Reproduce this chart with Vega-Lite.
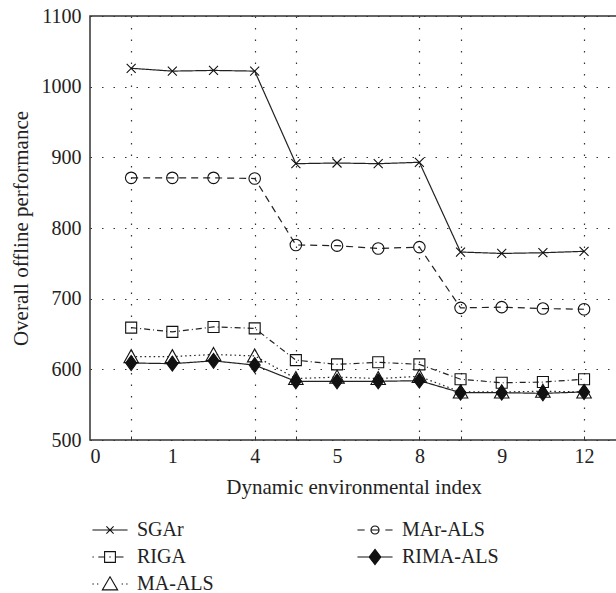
{
  "$schema": "https://vega.github.io/schema/vega-lite/v6.json",
  "autosize": {"type": "none"},
  "padding": {"left": 90, "top": 16, "right": 0, "bottom": 153},
  "width": 527,
  "height": 424,
  "config": {
    "font": "Liberation Serif",
    "view": {"stroke": "#333", "strokeWidth": 1.5},
    "axis": {"labelFontSize": 20, "titleFontSize": 21, "labelColor": "#222", "titleColor": "#222", "titleFontWeight": "normal", "domain": false}
  },
  "data": {"values": [
    {"idx": 1, "series": "SGAr", "value": 1026}, {"idx": 2, "series": "SGAr", "value": 1022}, {"idx": 3, "series": "SGAr", "value": 1023}, {"idx": 4, "series": "SGAr", "value": 1022},
    {"idx": 5, "series": "SGAr", "value": 891}, {"idx": 6, "series": "SGAr", "value": 892}, {"idx": 7, "series": "SGAr", "value": 891}, {"idx": 8, "series": "SGAr", "value": 893},
    {"idx": 9, "series": "SGAr", "value": 766}, {"idx": 10, "series": "SGAr", "value": 764}, {"idx": 11, "series": "SGAr", "value": 765}, {"idx": 12, "series": "SGAr", "value": 767},
    {"idx": 1, "series": "MAr-ALS", "value": 871}, {"idx": 2, "series": "MAr-ALS", "value": 871}, {"idx": 3, "series": "MAr-ALS", "value": 871}, {"idx": 4, "series": "MAr-ALS", "value": 870},
    {"idx": 5, "series": "MAr-ALS", "value": 776}, {"idx": 6, "series": "MAr-ALS", "value": 775}, {"idx": 7, "series": "MAr-ALS", "value": 771}, {"idx": 8, "series": "MAr-ALS", "value": 773},
    {"idx": 9, "series": "MAr-ALS", "value": 687}, {"idx": 10, "series": "MAr-ALS", "value": 688}, {"idx": 11, "series": "MAr-ALS", "value": 686}, {"idx": 12, "series": "MAr-ALS", "value": 685},
    {"idx": 1, "series": "RIGA", "value": 659}, {"idx": 2, "series": "RIGA", "value": 653}, {"idx": 3, "series": "RIGA", "value": 660}, {"idx": 4, "series": "RIGA", "value": 658},
    {"idx": 5, "series": "RIGA", "value": 613}, {"idx": 6, "series": "RIGA", "value": 607}, {"idx": 7, "series": "RIGA", "value": 610}, {"idx": 8, "series": "RIGA", "value": 607},
    {"idx": 9, "series": "RIGA", "value": 586}, {"idx": 10, "series": "RIGA", "value": 581}, {"idx": 11, "series": "RIGA", "value": 582}, {"idx": 12, "series": "RIGA", "value": 586},
    {"idx": 1, "series": "MA-ALS", "value": 618}, {"idx": 2, "series": "MA-ALS", "value": 618}, {"idx": 3, "series": "MA-ALS", "value": 621}, {"idx": 4, "series": "MA-ALS", "value": 619},
    {"idx": 5, "series": "MA-ALS", "value": 587}, {"idx": 6, "series": "MA-ALS", "value": 589}, {"idx": 7, "series": "MA-ALS", "value": 587}, {"idx": 8, "series": "MA-ALS", "value": 590},
    {"idx": 9, "series": "MA-ALS", "value": 568}, {"idx": 10, "series": "MA-ALS", "value": 568}, {"idx": 11, "series": "MA-ALS", "value": 569}, {"idx": 12, "series": "MA-ALS", "value": 568},
    {"idx": 1, "series": "RIMA-ALS", "value": 609}, {"idx": 2, "series": "RIMA-ALS", "value": 608}, {"idx": 3, "series": "RIMA-ALS", "value": 612}, {"idx": 4, "series": "RIMA-ALS", "value": 606},
    {"idx": 5, "series": "RIMA-ALS", "value": 583}, {"idx": 6, "series": "RIMA-ALS", "value": 583}, {"idx": 7, "series": "RIMA-ALS", "value": 583}, {"idx": 8, "series": "RIMA-ALS", "value": 584},
    {"idx": 9, "series": "RIMA-ALS", "value": 567}, {"idx": 10, "series": "RIMA-ALS", "value": 567}, {"idx": 11, "series": "RIMA-ALS", "value": 566}, {"idx": 12, "series": "RIMA-ALS", "value": 568}
  ]},
  "layer": [
    {
      "mark": {"type": "line", "color": "#222", "strokeWidth": 1.2},
      "encoding": {
        "x": {"field": "idx", "type": "quantitative", "scale": {"domain": [0, 12.8], "nice": false, "zero": false},
              "axis": {"orient": "bottom", "values": [1, 4, 5, 8, 9, 12], "labels": false, "title": null, "grid": true, "gridDash": [1.5, 10], "gridColor": "#333", "gridWidth": 1.2, "gridOpacity": 1, "tickSize": -4, "tickColor": "#333"}},
        "y": {"field": "value", "type": "quantitative", "scale": {"domain": [500, 1100], "nice": false, "zero": false},
              "axis": {"values": [500, 600, 700, 800, 900, 1000, 1100], "format": "d", "title": "Overall offline performance", "grid": true, "gridDash": [1.5, 10], "gridColor": "#333", "gridWidth": 1.2, "gridOpacity": 1, "ticks": false, "labelPadding": 9, "titlePadding": 10}},
        "strokeDash": {"field": "series", "type": "nominal", "legend": null,
              "scale": {"domain": ["SGAr", "RIGA", "MA-ALS", "MAr-ALS", "RIMA-ALS"], "range": [[1, 0], [6, 3, 1, 3], [1.5, 3], [7, 5], [1, 0]]}}
      }
    },
    {
      "mark": {"type": "point", "filled": true, "stroke": "#111", "strokeWidth": 1.1, "size": 100, "opacity": 1},
      "encoding": {
        "x": {"field": "idx", "type": "quantitative",
              "axis": {"orient": "bottom", "values": [0, 2, 4, 6, 8, 10, 12], "labelExpr": "datum.value == 2 ? '1' : datum.value == 6 ? '5' : datum.value == 10 ? '9' : datum.label", "ticks": false, "grid": false, "title": "Dynamic environmental index", "labelPadding": 6, "titlePadding": 10}},
        "y": {"field": "value", "type": "quantitative"},
        "shape": {"field": "series", "type": "nominal", "legend": null,
              "scale": {"domain": ["SGAr", "RIGA", "MA-ALS", "MAr-ALS", "RIMA-ALS"],
                        "range": ["M-0.9,-0.9L0.9,0.9M-0.9,0.9L0.9,-0.9",
                                  "M-1.1,-1.1L1.1,-1.1L1.1,1.1L-1.1,1.1Z",
                                  "M0,-1.4L1.45,1.2L-1.45,1.2Z",
                                  "M-1.15,0A1.15,1.15,0,1,1,1.15,0A1.15,1.15,0,1,1,-1.15,0Z",
                                  "M0,-1.5L1.1,0L0,1.5L-1.1,0Z"]}},
        "fill": {"field": "series", "type": "nominal", "legend": null,
              "scale": {"domain": ["SGAr", "RIGA", "MA-ALS", "MAr-ALS", "RIMA-ALS"], "range": ["transparent", "transparent", "transparent", "transparent", "#111"]}}
      }
    },
    {
      "data": {"values": []},
      "mark": {"type": "point", "filled": true, "strokeWidth": 1.1, "opacity": 1},
      "encoding": {
        "shape": {"field": "series", "type": "nominal",
              "scale": {"domain": ["SGAr", "RIGA", "MA-ALS", "MAr-ALS", "RIMA-ALS"],
                        "range": ["M-1.95,0L1.95,0M-0.4,-0.4L0.4,0.4M-0.4,0.4L0.4,-0.4",
                                  "M-1.95,0L-1.8,0M-1.3,0L-0.6,0M0.6,0L1.5,0M-0.08,0L0.08,0M-0.6,-0.6L0.6,-0.6L0.6,0.6L-0.6,0.6Z",
                                  "M-1.95,0L-1.8,0M-1.45,0L-1.3,0M1.3,0L1.45,0M1.8,0L1.95,0M0,-0.8L0.85,0.65L-0.85,0.65Z",
                                  "M-1.95,0L-1.15,0M1.15,0L1.95,0M-0.4,0L0.4,0M-0.45,0A0.45,0.45,0,1,1,0.45,0A0.45,0.45,0,1,1,-0.45,0Z",
                                  "M-1.95,0L1.95,0M0,-0.85L0.65,0L0,0.85L-0.65,0Z"]},
              "legend": {"title": null, "orient": "none", "legendX": 10, "legendY": 504, "columns": 2, "columnPadding": 141, "rowPadding": 7,
                         "symbolSize": 324, "symbolOpacity": 1, "symbolStrokeWidth": 1.1, "labelFontSize": 20, "labelColor": "#222", "labelOffset": 17, "labelFont": "Liberation Serif"}},
        "fill": {"field": "series", "type": "nominal",
              "scale": {"domain": ["SGAr", "RIGA", "MA-ALS", "MAr-ALS", "RIMA-ALS"], "range": ["transparent", "transparent", "transparent", "transparent", "#111"]}},
        "stroke": {"field": "series", "type": "nominal",
              "scale": {"domain": ["SGAr", "RIGA", "MA-ALS", "MAr-ALS", "RIMA-ALS"], "range": ["#111", "#111", "#111", "#111", "#111"]}}
      }
    }
  ],
  "resolve": {"axis": {"x": "independent"}, "scale": {"shape": "independent", "fill": "independent", "stroke": "independent"}}
}
